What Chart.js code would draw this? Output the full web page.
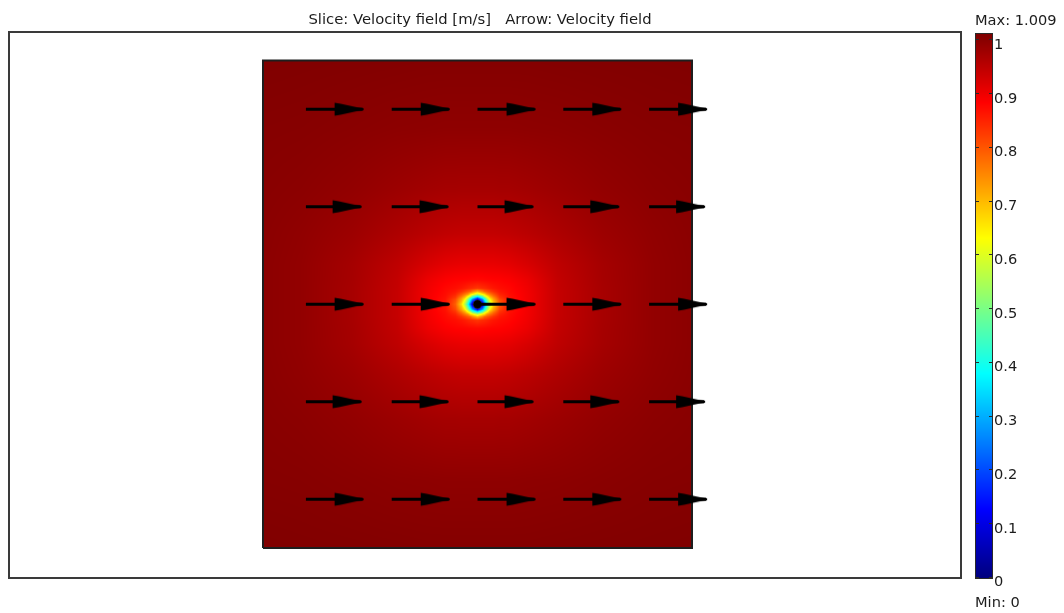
<!DOCTYPE html>
<html>
<head>
<meta charset="utf-8">
<title>Velocity field</title>
<script src="https://cdn.jsdelivr.net/npm/chart.js@4.4.1/dist/chart.umd.min.js"></script>
<style>
  html, body { margin: 0; padding: 0; background: #ffffff; }
  #wrap { width: 1064px; height: 613px; position: relative; }
  canvas { display: block; }
</style>
</head>
<body>
<div id="wrap"><canvas id="plot" width="1064" height="613"></canvas></div>
<script>
// ---- Sampled velocity magnitude [m/s] on a rectilinear grid (x, y in m) ----
const xGrid = [0, 0.2, 0.46, 0.69, 0.844, 0.936, 0.987, 1.018, 1.036, 1.051, 1.064, 1.074,
               1.1,
               1.126, 1.136, 1.149, 1.164, 1.182, 1.213, 1.264, 1.356, 1.51, 1.74, 2.0, 2.2];
const yGrid = [0, 0.35, 0.66, 0.89, 1.045, 1.127, 1.168, 1.186, 1.199, 1.209, 1.217, 1.224,
               1.25,
               1.276, 1.283, 1.291, 1.301, 1.314, 1.332, 1.373, 1.455, 1.61, 1.84, 2.15, 2.5];
// one row per yGrid entry, bottom to top; one value per xGrid entry
const speed = [
  [1.008,1.007,1.006,1.005,1.004,1.004,1.004,1.004,1.004,1.004,1.004,1.004,1.004,1.004,1.004,1.004,1.004,1.004,1.004,1.004,1.004,1.005,1.006,1.007,1.008],
  [1.003,1.002,.999,.996,.995,.994,.994,.994,.994,.994,.994,.994,.994,.994,.994,.994,.994,.994,.994,.994,.995,.996,.999,1.002,1.003],
  [1.0,.997,.99,.981,.975,.972,.972,.971,.971,.971,.971,.971,.971,.971,.971,.971,.971,.971,.972,.972,.975,.981,.99,.997,1.0],
  [.998,.992,.98,.963,.951,.945,.943,.942,.942,.942,.942,.942,.942,.942,.942,.942,.942,.942,.943,.945,.951,.963,.98,.992,.998],
  [.997,.99,.972,.947,.922,.91,.907,.905,.905,.905,.905,.905,.905,.905,.905,.905,.905,.905,.907,.91,.922,.947,.972,.99,.997],
  [.997,.99,.971,.942,.902,.886,.881,.88,.879,.878,.877,.876,.875,.876,.877,.878,.879,.88,.881,.886,.902,.942,.971,.99,.997],
  [.997,.99,.97,.941,.897,.877,.87,.862,.855,.848,.842,.84,.83,.84,.842,.848,.855,.862,.87,.877,.897,.941,.97,.99,.997],
  [.997,.99,.97,.94,.896,.874,.86,.835,.815,.795,.78,.75,.70,.75,.78,.795,.815,.835,.86,.874,.896,.94,.97,.99,.997],
  [.997,.99,.97,.94,.895,.872,.848,.80,.765,.735,.665,.645,.56,.645,.665,.735,.765,.80,.848,.872,.895,.94,.97,.99,.997],
  [.997,.99,.97,.94,.895,.87,.835,.77,.72,.645,.59,.49,.40,.49,.59,.645,.72,.77,.835,.87,.895,.94,.97,.99,.997],
  [.997,.99,.97,.94,.895,.868,.825,.74,.68,.59,.46,.40,.24,.40,.46,.59,.68,.74,.825,.868,.895,.94,.97,.99,.997],
  [.997,.99,.97,.94,.895,.866,.81,.72,.64,.52,.39,.28,.10,.28,.39,.52,.64,.72,.81,.866,.895,.94,.97,.99,.997],
  [.997,.99,.97,.94,.895,.865,.79,.67,.55,.40,.22,.06,0,.06,.22,.40,.55,.67,.79,.865,.895,.94,.97,.99,.997],
  [.997,.99,.97,.94,.895,.866,.81,.72,.64,.52,.39,.28,.10,.28,.39,.52,.64,.72,.81,.866,.895,.94,.97,.99,.997],
  [.997,.99,.97,.94,.895,.868,.825,.74,.68,.59,.46,.40,.24,.40,.46,.59,.68,.74,.825,.868,.895,.94,.97,.99,.997],
  [.997,.99,.97,.94,.895,.87,.835,.77,.72,.645,.59,.49,.40,.49,.59,.645,.72,.77,.835,.87,.895,.94,.97,.99,.997],
  [.997,.99,.97,.94,.895,.872,.848,.80,.765,.735,.665,.645,.56,.645,.665,.735,.765,.80,.848,.872,.895,.94,.97,.99,.997],
  [.997,.99,.97,.94,.896,.874,.86,.835,.815,.795,.78,.75,.70,.75,.78,.795,.815,.835,.86,.874,.896,.94,.97,.99,.997],
  [.997,.99,.97,.941,.897,.877,.87,.862,.855,.848,.842,.84,.83,.84,.842,.848,.855,.862,.87,.877,.897,.941,.97,.99,.997],
  [.997,.99,.971,.942,.902,.886,.881,.88,.879,.878,.877,.876,.875,.876,.877,.878,.879,.88,.881,.886,.902,.942,.971,.99,.997],
  [.997,.99,.972,.947,.922,.91,.907,.905,.905,.905,.905,.905,.905,.905,.905,.905,.905,.905,.907,.91,.922,.947,.972,.99,.997],
  [.998,.992,.98,.963,.951,.945,.943,.942,.942,.942,.942,.942,.942,.942,.942,.942,.942,.942,.943,.945,.951,.963,.98,.992,.998],
  [1.0,.997,.99,.981,.975,.972,.972,.971,.971,.971,.971,.971,.971,.971,.971,.971,.971,.971,.972,.972,.975,.981,.99,.997,1.0],
  [1.003,1.002,.999,.996,.995,.994,.994,.994,.994,.994,.994,.994,.994,.994,.994,.994,.994,.994,.994,.994,.995,.996,.999,1.002,1.003],
  [1.008,1.007,1.006,1.005,1.004,1.004,1.004,1.004,1.004,1.004,1.004,1.004,1.004,1.004,1.004,1.004,1.004,1.004,1.004,1.004,1.004,1.005,1.006,1.007,1.008]
];
const speedMin = 0;
const speedMax = 1.009;

// ---- Arrow plot: positions [m] and x-velocity [m/s] at each arrow ----
const arrowX = [0.22, 0.66, 1.10, 1.54, 1.98];
const arrowY = [2.25, 1.75, 1.25, 0.75, 0.25];
const arrowU = [
  [0.995, 1.0, 1.0, 1.0, 1.0],
  [0.96, 0.98, 0.965, 0.965, 0.965],
  [0.995, 1.0, 1.0, 1.0, 1.0],
  [0.96, 0.98, 0.965, 0.965, 0.965],
  [0.995, 1.0, 1.0, 1.0, 1.0]
];

// ---- Geometry [m] ----
const boundaryX = [0, 2.2, 2.2, 0, 0];
const boundaryY = [0, 0, 2.5, 2.5, 0];
const cylinder = [1.1, 1.25, 0.022];   // centre x, centre y, radius

// ---- Colour legend ----
const colorTicks = [0, 0.1, 0.2, 0.3, 0.4, 0.5, 0.6, 0.7, 0.8, 0.9, 1];
const titleText = 'Slice: Velocity field [m/s]   Arrow: Velocity field';

speed.forEach((row, i) => {
  if (row.length !== xGrid.length) throw new Error('speed row ' + i + ' has ' + row.length + ' values');
});
if (speed.length !== yGrid.length) throw new Error('speed has ' + speed.length + ' rows');

const FONT_FAMILY = '"DejaVu Sans", Verdana, sans-serif';
const TEXT = '#1c1c1c';
const ARROW_LEN = 0.2923;   // arrow length [m] per 1 m/s

function clamp01(v) { return v < 0 ? 0 : (v > 1 ? 1 : v); }
function jet(t) {
  t = clamp01(t);
  return [
    Math.round(255 * clamp01(Math.min(4 * t - 1.5, -4 * t + 4.5))),
    Math.round(255 * clamp01(Math.min(4 * t - 0.5, -4 * t + 3.5))),
    Math.round(255 * clamp01(Math.min(4 * t + 0.5, -4 * t + 2.5)))
  ];
}
function cellIndex(grid, v) {
  let lo = 0, hi = grid.length - 2;
  if (v <= grid[0]) return 0;
  if (v >= grid[grid.length - 1]) return hi;
  while (lo < hi) {
    const mid = (lo + hi + 1) >> 1;
    if (grid[mid] <= v) lo = mid; else hi = mid - 1;
  }
  return lo;
}
// bilinear lookup between the sampled grid nodes
function speedAt(x, y) {
  const i = cellIndex(xGrid, x), j = cellIndex(yGrid, y);
  const fx = clamp01((x - xGrid[i]) / (xGrid[i + 1] - xGrid[i]));
  const fy = clamp01((y - yGrid[j]) / (yGrid[j + 1] - yGrid[j]));
  const a = speed[j][i], b = speed[j][i + 1], c = speed[j + 1][i], d = speed[j + 1][i + 1];
  return (a * (1 - fx) + b * fx) * (1 - fy) + (c * (1 - fx) + d * fx) * fy;
}

// arrow head bitmap, tip at the bitmap centre
function makeArrowHead() {
  const c = document.createElement('canvas');
  c.width = 60; c.height = 16;
  const g = c.getContext('2d');
  const tx = 30, cy = 8;
  const pts = [[-28, 6.5], [-22, 5.6], [-14, 3.7], [-6, 2.1], [1, 0.9]];
  g.beginPath();
  g.moveTo(tx + pts[0][0], cy - pts[0][1]);
  pts.forEach(p => g.lineTo(tx + p[0], cy - p[1]));
  for (let k = pts.length - 1; k >= 0; k--) g.lineTo(tx + pts[k][0], cy + pts[k][1]);
  g.closePath();
  g.fillStyle = '#000';
  g.fill();
  return c;
}
const arrowHead = makeArrowHead();

const arrowPoints = [];
arrowY.forEach((y, r) => arrowX.forEach((x, c) => {
  const tip = x + arrowU[r][c] * ARROW_LEN;
  arrowPoints.push({x: x, y: y}, {x: tip, y: y}, {x: tip, y: null});
}));
const boundaryPoints = boundaryX.map((x, i) => ({x: x, y: boundaryY[i]}));

// slice plot: colour every pixel of the domain from the sampled speed
const sliceLayer = {
  id: 'sliceLayer',
  beforeDatasetsDraw(chart) {
    const {ctx, scales: {x, y}} = chart;
    const left = Math.round(x.getPixelForValue(xGrid[0]));
    const right = Math.round(x.getPixelForValue(xGrid[xGrid.length - 1]));
    const top = Math.round(y.getPixelForValue(yGrid[yGrid.length - 1]));
    const bottom = Math.round(y.getPixelForValue(yGrid[0]));
    const w = right - left, h = bottom - top;
    const off = document.createElement('canvas');
    off.width = w; off.height = h;
    const octx = off.getContext('2d');
    const img = octx.createImageData(w, h);
    const span = speedMax - speedMin;
    for (let j = 0; j < h; j++) {
      const vy = y.getValueForPixel(top + j + 0.5);
      for (let i = 0; i < w; i++) {
        const vx = x.getValueForPixel(left + i + 0.5);
        const col = jet((speedAt(vx, vy) - speedMin) / span);
        const k = (j * w + i) * 4;
        img.data[k] = col[0]; img.data[k + 1] = col[1]; img.data[k + 2] = col[2]; img.data[k + 3] = 255;
      }
    }
    octx.putImageData(img, 0, 0);
    ctx.drawImage(off, left, top);
  }
};

// axes frame, title, colour bar with its tick marks and range labels
const overlay = {
  id: 'overlay',
  afterDraw(chart) {
    const {ctx, chartArea: a, scales: {cb}} = chart;
    ctx.save();
    ctx.strokeStyle = '#3a3a3a';
    ctx.lineWidth = 2;
    ctx.strokeRect(a.left, a.top, a.right - a.left, a.bottom - a.top);

    ctx.font = '14.8px ' + FONT_FAMILY;
    ctx.fillStyle = TEXT;
    ctx.textAlign = 'center';
    ctx.textBaseline = 'alphabetic';
    ctx.fillText(titleText, (a.left + a.right) / 2 - 5, 23.5);

    const barL = cb.left + 15, barR = cb.left + 31;
    const pTop = cb.getPixelForValue(speedMax), pBot = cb.getPixelForValue(speedMin);
    for (let p = Math.floor(pTop); p < Math.ceil(pBot); p++) {
      const v = Math.min(speedMax, Math.max(speedMin, cb.getValueForPixel(p + 0.5)));
      const c = jet((v - speedMin) / (speedMax - speedMin));
      ctx.fillStyle = 'rgb(' + c[0] + ',' + c[1] + ',' + c[2] + ')';
      ctx.fillRect(barL, p, barR - barL, 1);
    }
    ctx.strokeStyle = '#2a2a2a';
    ctx.lineWidth = 1;
    ctx.strokeRect(barL - 0.5, Math.floor(pTop) - 0.5, barR - barL + 1, Math.ceil(pBot) - Math.floor(pTop) + 1);
    ctx.beginPath();
    cb.ticks.forEach(t => {
      const yy = Math.round(cb.getPixelForValue(t.value)) + 0.5;
      ctx.moveTo(barL, yy); ctx.lineTo(barL + 3, yy);
      ctx.moveTo(barR - 3, yy); ctx.lineTo(barR, yy);
    });
    ctx.stroke();

    ctx.font = '14.6px ' + FONT_FAMILY;
    ctx.fillStyle = TEXT;
    ctx.textAlign = 'left';
    ctx.fillText('Max: ' + speedMax, barL - 1, 25);
    ctx.fillText('Min: ' + speedMin, barL - 1, 607);
    ctx.restore();
  }
};

new Chart(document.getElementById('plot'), {
  type: 'line',
  data: {
    datasets: [
      {
        label: 'Arrow: Velocity field',
        data: arrowPoints,
        borderColor: '#000',
        borderWidth: 3,
        borderCapStyle: 'butt',
        spanGaps: false,
        tension: 0,
        pointStyle: ctx => (ctx.dataIndex % 3 === 1 ? arrowHead : 'circle'),
        pointRadius: ctx => (ctx.dataIndex % 3 === 1 ? 5 : 0),
        pointHoverRadius: 0
      },
      {
        label: 'Cylinder',
        type: 'scatter',
        data: [{x: cylinder[0], y: cylinder[1]}],
        pointBackgroundColor: '#000',
        pointBorderColor: '#333',
        pointBorderWidth: 0.5,
        pointRadius: ctx => {
          const s = ctx.chart.scales.x;
          return Math.abs(s.getPixelForValue(cylinder[0] + cylinder[2]) - s.getPixelForValue(cylinder[0]));
        }
      },
      {
        label: 'Boundary',
        data: boundaryPoints,
        borderColor: '#1e1e1e',
        borderWidth: 2,
        pointRadius: 0,
        tension: 0,
        fill: false
      }
    ]
  },
  options: {
    responsive: false,
    animation: false,
    devicePixelRatio: 1,
    events: [],
    layout: { padding: { left: 9, top: 32, right: 0, bottom: 35 } },
    plugins: {
      legend: { display: false },
      tooltip: { enabled: false },
      title: { display: false }
    },
    scales: {
      x: { type: 'linear', min: -1.3026, max: 3.5795, display: false },
      y: { type: 'linear', min: -0.1538, max: 2.646, display: false },
      cb: {
        type: 'linear',
        axis: 'y',
        position: 'right',
        display: true,
        min: -0.00186,
        max: 1.01395,
        grid: { display: false, drawTicks: true, tickLength: 33 },
        border: { display: false },
        afterBuildTicks: s => { s.ticks = colorTicks.map(v => ({value: v})); },
        afterFit: s => { s.width = 103; },
        ticks: {
          padding: 0,
          labelOffset: 5.5,
          color: TEXT,
          font: { family: FONT_FAMILY, size: 14.6 },
          callback: v => String(v)
        }
      }
    }
  },
  plugins: [sliceLayer, overlay]
});
</script>
</body>
</html>
